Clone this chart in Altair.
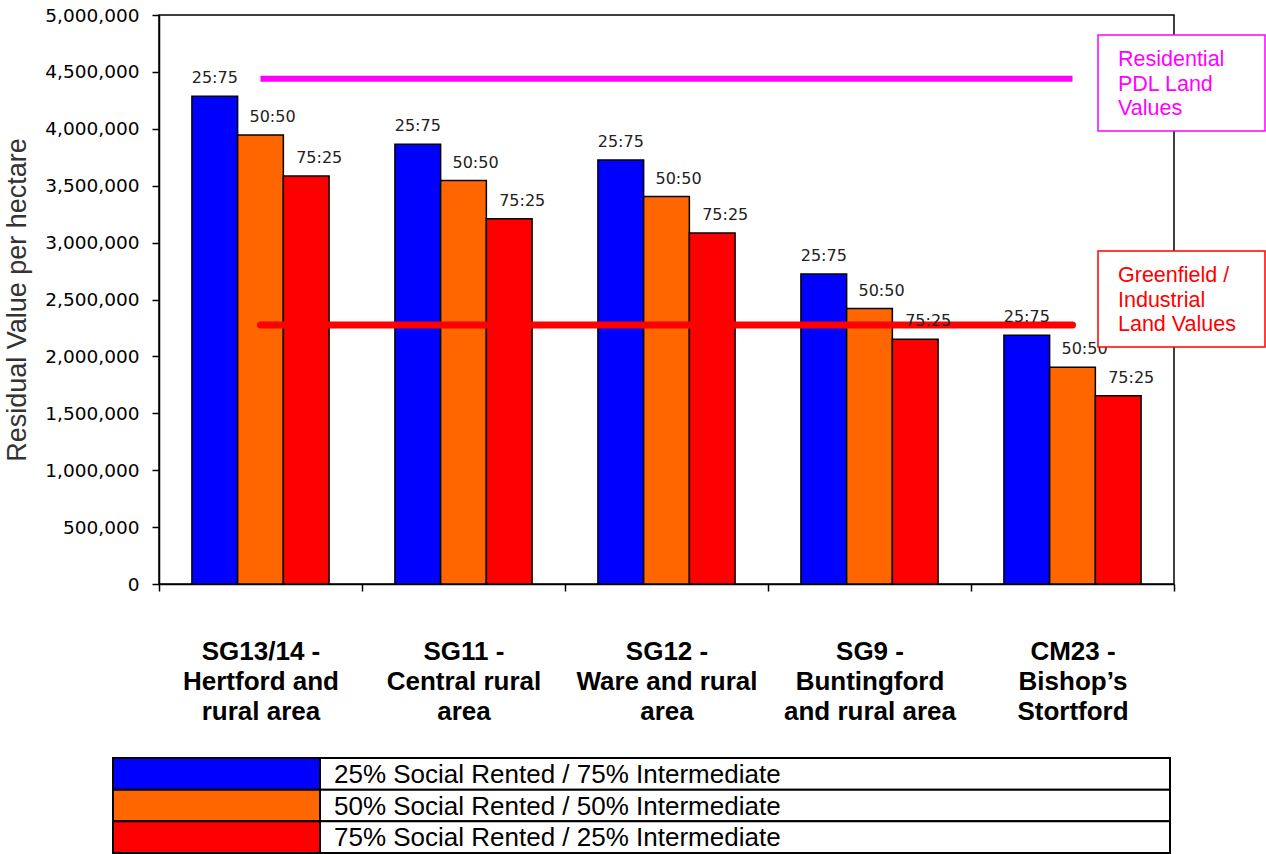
import altair as alt
import pandas as pd

# Postcode areas (label lines separated by "|")
areas = [
    "SG13/14 -|Hertford and|rural area",
    "SG11 -|Central rural|area",
    "SG12 -|Ware and rural|area",
    "SG9 -|Buntingford|and rural area",
    "CM23 -|Bishop’s|Stortford",
]

# Affordable housing tenure splits (social rented : intermediate)
tenure_splits = ["25:75", "50:50", "75:25"]
tenure_names = [
    "25% Social Rented / 75% Intermediate",
    "50% Social Rented / 50% Intermediate",
    "75% Social Rented / 25% Intermediate",
]
split_colors = ["#0000FF", "#FF6600", "#FF0000"]

# Residual value per hectare for each area, by tenure split
value_25_75 = [4285000, 3865000, 3725000, 2725000, 2185000]
value_50_50 = [3945000, 3545000, 3405000, 2420000, 1905000]
value_75_25 = [3585000, 3210000, 3085000, 2150000, 1655000]

# Benchmark land values
residential_pdl_value = 4440000
greenfield_value = 2275000
residential_note = ["Residential", "PDL Land", "Values"]
greenfield_note = ["Greenfield /", "Industrial", "Land Values"]

y_ticks = [0, 500000, 1000000, 1500000, 2000000, 2500000,
           3000000, 3500000, 4000000, 4500000, 5000000]

Y_DOMAIN = [0, 5000000]

rows = []
for split, vals in zip(tenure_splits, [value_25_75, value_50_50, value_75_25]):
    for area, v in zip(areas, vals):
        rows.append({"area": area, "split": split, "value": v})
bars_df = pd.DataFrame(rows)

x_enc = alt.X(
    "area:N",
    sort=areas,
    scale=alt.Scale(domain=areas, paddingInner=0, paddingOuter=0),
    axis=alt.Axis(
        title=None,
        labelExpr="isValid(datum.value) ? split(datum.value, '|') : ''",
        labelFontSize=26,
        labelFontWeight="bold",
        labelLineHeight=30,
        labelColor="black",
        labelAngle=0,
        labelLimit=0,
        labelPadding=47,
        labelBaseline="top",
        tickBand="extent",
        tickSize=7,
        tickWidth=1.5,
        domainWidth=1.5,
    ),
)
xoff_enc = alt.XOffset(
    "split:N",
    sort=tenure_splits,
    scale=alt.Scale(domain=tenure_splits, paddingInner=0, paddingOuter=0.72),
)
y_enc = alt.Y(
    "value:Q",
    scale=alt.Scale(domain=Y_DOMAIN, nice=False),
    axis=alt.Axis(
        title="Residual Value per hectare",
        titleFont="Liberation Sans",
        titleFontSize=27,
        titleFontWeight="normal",
        titleColor="#333333",
        titleAngle=-90,
        titleBaseline="alphabetic",
        titleX=-134,
        titleY=284.5,
        values=y_ticks,
        format=",d",
        labelFont="DejaVu Sans",
        labelFontSize=18.5,
        labelColor="#000000",
        labelPadding=13,
        tickSize=7,
        tickWidth=1.5,
        domainWidth=1.5,
        grid=False,
    ),
)
color_enc = alt.Color(
    "split:N",
    scale=alt.Scale(domain=tenure_splits, range=split_colors),
    legend=None,
)

bars = alt.Chart(bars_df).mark_bar(stroke="black", strokeWidth=1.5).encode(
    x=x_enc, xOffset=xoff_enc, y=y_enc, color=color_enc
)

# Ratio labels above each bar
label_shift = {"25:75": 0, "50:50": 12, "75:25": 13}
labels = []
for split in tenure_splits:
    labels.append(
        alt.Chart(bars_df)
        .transform_filter(alt.datum.split == split)
        .mark_text(font="DejaVu Sans", fontSize=16, color="#222222",
                   baseline="middle", dy=-18, dx=label_shift[split])
        .encode(x=x_enc, xOffset=xoff_enc, y=y_enc, text="split:N")
    )

# Benchmark lines spanning first to last area
bench_df = pd.DataFrame({
    "area": [areas[0], areas[0]],
    "end": [areas[-1], areas[-1]],
    "value": [residential_pdl_value, greenfield_value],
    "kind": ["residential", "greenfield"],
})


def bench_rule(kind, colour, width, cap):
    return (
        alt.Chart(bench_df)
        .transform_filter(alt.datum.kind == kind)
        .mark_rule(color=colour, strokeWidth=width, strokeCap=cap)
        .encode(x=x_enc, x2="end:N", y=y_enc)
    )


rule_res = bench_rule("residential", "#FF00FF", 6, "butt")
rule_green = bench_rule("greenfield", "#FF0000", 7, "round")

one = pd.DataFrame({"i": [0]})


def note_box(top, bottom, colour, lines, baseline_y):
    box = alt.Chart(one).mark_rect(fill="white", stroke=colour, strokeWidth=1.5).encode(
        x=alt.value(939), x2=alt.value(1106), y=alt.value(top), y2=alt.value(bottom)
    )
    txt = alt.Chart(one).mark_text(
        font="Liberation Sans", fontSize=21.5, color=colour, align="left",
        baseline="alphabetic", lineHeight=24.5,
    ).encode(x=alt.value(959), y=alt.value(baseline_y), text=alt.value(lines))
    return box, txt


res_box, res_txt = note_box(20, 116, "#FF00FF", residential_note, 51)
green_box, green_txt = note_box(236, 332, "#FF0000", greenfield_note, 267)

main = alt.layer(
    bars, rule_res, rule_green, *labels, res_box, res_txt, green_box, green_txt
)

# Table-style key below the chart
legend_df = pd.DataFrame({"split": tenure_splits, "name": tenure_names})
legend_y = alt.Y(
    "name:N",
    sort=tenure_names,
    scale=alt.Scale(domain=tenure_names, range=[743, 838], paddingInner=0, paddingOuter=0),
    axis=None,
)
swatches = alt.Chart(legend_df).mark_rect(stroke="black", strokeWidth=2).encode(
    x=alt.value(-46), x2=alt.value(161), y=legend_y, color=color_enc
)
cells = alt.Chart(legend_df).mark_rect(fill="white", stroke="black", strokeWidth=2).encode(
    x=alt.value(161), x2=alt.value(1011), y=legend_y
)
names = alt.Chart(legend_df).mark_text(
    font="Liberation Sans", fontSize=26, color="black", align="left", baseline="middle", dy=1
).encode(x=alt.value(175), y=legend_y, text="name:N")
key = alt.layer(swatches, cells, names)

chart = (
    alt.layer(main, key)
    .resolve_scale(y="independent")
    .properties(
        width=1015,
        height=569,
        autosize=alt.AutoSizeParams(type="none"),
        padding={"left": 159, "top": 15, "right": 92, "bottom": 270},
        background="white",
    )
    .configure(font="Liberation Sans")
    .configure_view(stroke="black", strokeWidth=1.5)
    .configure_axis(domainColor="black", tickColor="black")
)

chart.save("out.html", embed_options={"renderer": "svg", "actions": False})
